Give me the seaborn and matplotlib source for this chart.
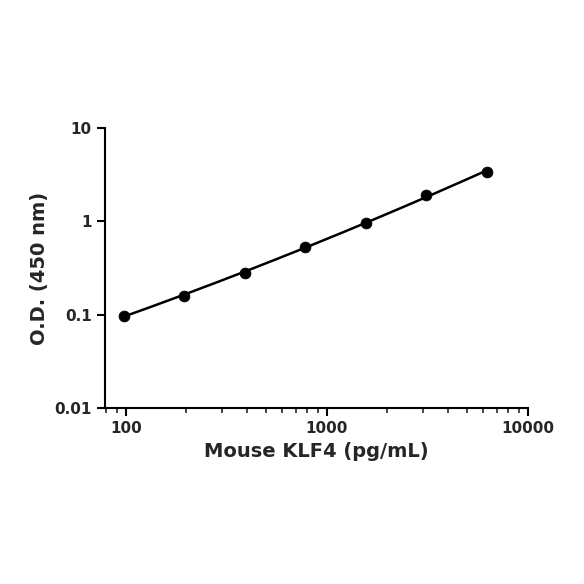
import matplotlib
matplotlib.use("Agg")
import matplotlib.pyplot as plt
import seaborn as sns
import numpy as np
import pandas as pd

conc = [97.6, 195, 390, 781, 1562, 3125, 6250]
od = [0.098, 0.16, 0.28, 0.53, 0.97, 1.9, 3.4]

sns.set_style("ticks")
plt.rcParams['font.family'] = ['DejaVu Sans']
fig = plt.figure(figsize=(5.84, 5.84), dpi=100)
ax = fig.add_axes([0.18, 0.301, 0.724, 0.48])
df = pd.DataFrame({"x": conc, "y": od})
# smooth fit curve in log-log space
lx, ly = np.log10(conc), np.log10(od)
c = np.polyfit(lx, ly, 2)
xs = np.linspace(lx[0], lx[-1], 200)
sns.lineplot(x=10**xs, y=10**np.polyval(c, xs), color="black", lw=1.8, ax=ax)
sns.scatterplot(data=df, x="x", y="y", color="black", s=60, edgecolor="black", ax=ax, zorder=3)
ax.set_xscale("log"); ax.set_yscale("log")
ax.set_xlim(79, 10000); ax.set_ylim(0.01, 10)
ax.set_xticks([100, 1000, 10000]); ax.set_xticklabels(["100", "1000", "10000"])
ax.set_yticks([0.01, 0.1, 1, 10]); ax.set_yticklabels(["0.01", "0.1", "1", "10"])
ax.yaxis.set_minor_locator(matplotlib.ticker.NullLocator())
ax.tick_params(axis="both", which="major", width=1.5, length=6, labelsize=11, color="black")
ax.tick_params(axis="x", which="minor", width=1.2, length=3.5)
for l in ax.get_xticklabels() + ax.get_yticklabels():
    l.set_fontweight("bold")
for s in ["left", "bottom"]:
    ax.spines[s].set_linewidth(1.5); ax.spines[s].set_color("black")
sns.despine(ax=ax)
ax.set_xlabel("Mouse KLF4 (pg/mL)", fontsize=14, fontweight="bold")
ax.set_ylabel("O.D. (450 nm)", fontsize=14, fontweight="bold")
fig.savefig("out.png", dpi=100)
